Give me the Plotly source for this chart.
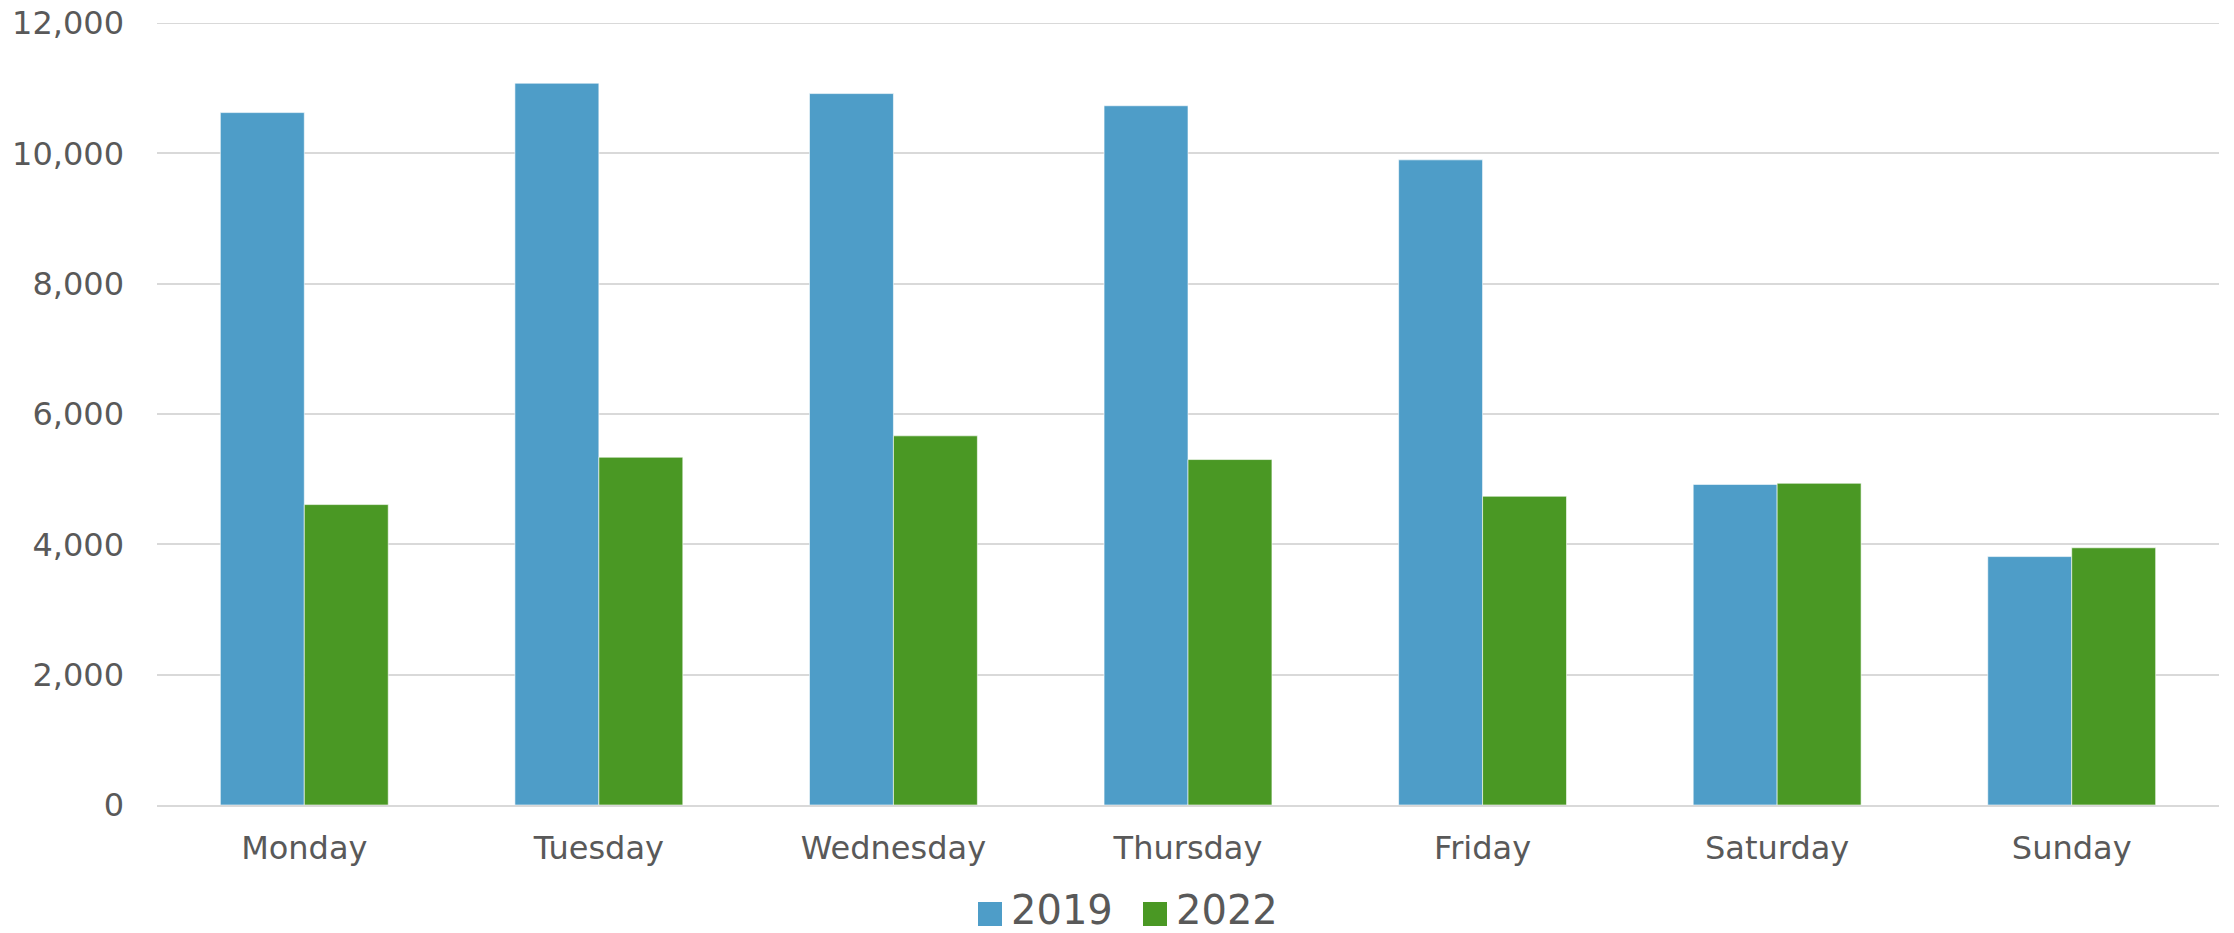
import plotly.graph_objects as go

# Daily totals by weekday, two years compared
days = ["Monday", "Tuesday", "Wednesday", "Thursday", "Friday", "Saturday", "Sunday"]
values_2019 = [10625, 11076, 10917, 10730, 9900, 4920, 3812]
values_2022 = [4610, 5337, 5665, 5301, 4738, 4937, 3947]
series_names = ["2019", "2022"]
y_ticks = [0, 2000, 4000, 6000, 8000, 10000, 12000]

BLUE = "#4E9DC8"
GREEN = "#4A9824"
TEXT = "#595959"
GRID = "#d9d9d9"
FONT = "DejaVu Sans"

W, H = 2234, 933
M_L, M_R, M_T, M_B = 157, 15, 23, 128
plot_w = W - M_L - M_R
plot_h = H - M_T - M_B


def px_x(x):
    return (x - M_L) / plot_w


def px_y(y):
    return (H - M_B - y) / plot_h


fig = go.Figure()
for name, vals, color in [(series_names[0], values_2019, BLUE),
                          (series_names[1], values_2022, GREEN)]:
    fig.add_trace(go.Bar(
        x=days, y=vals, name=name,
        marker=dict(color=color, line=dict(color="rgba(255,255,255,0.6)", width=1)),
        showlegend=False,
    ))

shapes = []
# Gridline at the top of the value range (Plotly skips the one on the plot edge)
shapes.append(dict(type="line", xref="paper", yref="y",
                   x0=0, x1=1, y0=y_ticks[-1], y1=y_ticks[-1],
                   line=dict(color=GRID, width=2), layer="below"))

# Custom legend: large colour squares with labels centred under the chart
legend_items = [(series_names[0], BLUE, 978), (series_names[1], GREEN, 1143)]
annotations = []
for name, color, x0 in legend_items:
    shapes.append(dict(type="rect", xref="paper", yref="paper",
                       x0=px_x(x0), x1=px_x(x0 + 24),
                       y0=px_y(926), y1=px_y(902),
                       fillcolor=color, line=dict(width=0)))
    annotations.append(dict(xref="paper", yref="paper",
                            x=px_x(x0 + 32), y=px_y(934),
                            xanchor="left", yanchor="bottom",
                            text=name, showarrow=False, borderpad=0,
                            font=dict(family=FONT, size=40, color=TEXT)))

fig.update_layout(
    width=W, height=H,
    margin=dict(l=M_L, r=M_R, t=M_T, b=M_B, autoexpand=False),
    paper_bgcolor="white", plot_bgcolor="white",
    barmode="group", bargap=0.43, bargroupgap=0,
    font=dict(family=FONT, size=32, color=TEXT),
    shapes=shapes, annotations=annotations,
    showlegend=False,
)
fig.update_xaxes(
    showgrid=False, showline=True, linecolor=GRID, linewidth=2,
    ticks="", ticklabelstandoff=14, automargin=False,
    tickfont=dict(family=FONT, size=32, color=TEXT),
)
fig.update_yaxes(
    range=[0, 12000], tickvals=y_ticks, tickformat=",",
    showgrid=True, gridcolor=GRID, gridwidth=2,
    zeroline=False, showline=False, ticks="", ticklabelstandoff=32,
    automargin=False,
    tickfont=dict(family=FONT, size=32, color=TEXT),
)

fig.write_html("out.html")
